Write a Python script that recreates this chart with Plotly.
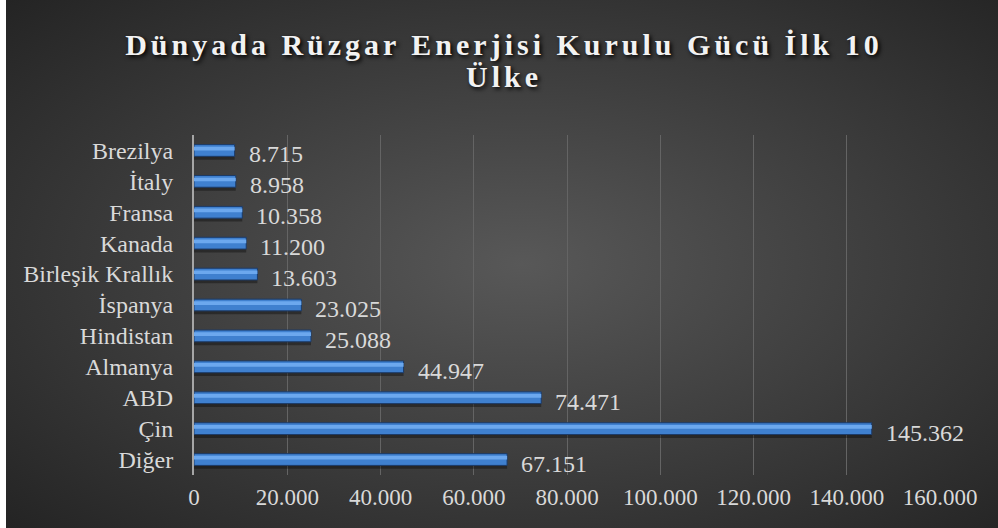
import base64
import plotly.graph_objects as go

# ---- data ----
title_text = "Dünyada Rüzgar Enerjisi Kurulu Gücü İlk 10<br>Ülke"
countries = ["Diğer", "Çin", "ABD", "Almanya", "Hindistan", "İspanya",
             "Birleşik Krallık", "Kanada", "Fransa", "İtaly", "Brezilya"]
capacity_mw = [67151, 145362, 74471, 44947, 25088, 23025,
               13603, 11200, 10358, 8958, 8715]
x_ticks = [0, 20000, 40000, 60000, 80000, 100000, 120000, 140000, 160000]

# ---- layout geometry ----
W, H = 998, 528
ML, MR, MT, MB = 194, 58, 135, 53
PW, PH = W - ML - MR, H - MT - MB

FONT = "Liberation Serif"
TXT = "#d9d9d9"

def tr(v):
    return f"{v:,}".replace(",", ".")

# radial gradient background as svg image
svg = (
    f'<svg xmlns="http://www.w3.org/2000/svg" width="992" height="528">'
    '<defs><radialGradient id="g" cx="52%" cy="50%" r="72%">'
    '<stop offset="0" stop-color="#585858"/>'
    '<stop offset="1" stop-color="#242424"/>'
    '</radialGradient></defs>'
    '<rect width="992" height="528" fill="url(#g)"/></svg>'
)
bg_src = "data:image/svg+xml;base64," + base64.b64encode(svg.encode()).decode()

fig = go.Figure()

# shadow
fig.add_trace(go.Bar(
    y=countries, x=capacity_mw, orientation="h",
    offset=-0.30, width=0.40,
    marker=dict(color="rgba(0,0,0,0.35)", line=dict(width=0)),
    hoverinfo="skip", showlegend=False,
))
# main bar
fig.add_trace(go.Bar(
    y=countries, x=capacity_mw, orientation="h",
    offset=-0.19, width=0.38,
    marker=dict(color="#3f80cf", line=dict(color="#1c3b68", width=1)),
    showlegend=False,
))
# highlight
fig.add_trace(go.Bar(
    y=countries, x=capacity_mw, orientation="h",
    offset=0.0, width=0.12,
    marker=dict(color="#6ca8ee", line=dict(width=0)),
    hoverinfo="skip", showlegend=False,
))

annotations = [
    dict(x=v, y=c, xref="x", yref="y", text=tr(v), showarrow=False,
         xanchor="left", yanchor="middle", xshift=12, yshift=-4,
         font=dict(family=FONT, size=24, color=TXT))
    for c, v in zip(countries, capacity_mw)
]

fig.update_layout(
    width=W, height=H,
    margin=dict(l=ML, r=MR, t=MT, b=MB, pad=0),
    paper_bgcolor="white",
    plot_bgcolor="rgba(0,0,0,0)",
    barmode="overlay",
    separators=",.",
    showlegend=False,
    title=dict(
        text=title_text, x=0.505, xref="container", xanchor="center",
        y=1 - 55 / H, yref="container", yanchor="top",
        font=dict(family=FONT, size=30, color="#f2f2f2", weight="bold",
                  shadow="2px 2px 4px #000"),
    ),
    xaxis=dict(
        range=[0, 160000], tickvals=x_ticks, tickformat=",d",
        showgrid=True, gridcolor="#646464", gridwidth=1,
        zeroline=False, showline=False, ticks="",
        ticklabelstandoff=6,
        tickfont=dict(family=FONT, size=23, color=TXT),
        fixedrange=True,
    ),
    yaxis=dict(
        range=[-0.5, 10.5], showgrid=False, zeroline=False,
        showline=True, linecolor="#a6a6a6", linewidth=2,
        ticks="", ticklabelstandoff=14,
        tickfont=dict(family=FONT, size=24, color=TXT),
        fixedrange=True,
    ),
    annotations=annotations,
    images=[dict(
        source=bg_src, xref="paper", yref="paper",
        x=(6 - ML) / PW, y=1 + MT / PH,
        sizex=992 / PW, sizey=H / PH,
        xanchor="left", yanchor="top", sizing="stretch", layer="below",
    )],
)

post = (
    "document.body.style.margin='0';"
    "document.querySelectorAll('.gtitle').forEach(function(e){e.style.letterSpacing='4px';});"
    "document.querySelectorAll('.gtitle tspan.line').forEach(function(t,i){if(i>0){t.setAttribute('dy','1.05em');}});"
)
fig.write_html("out.html", post_script=post, config={"displayModeBar": False})
